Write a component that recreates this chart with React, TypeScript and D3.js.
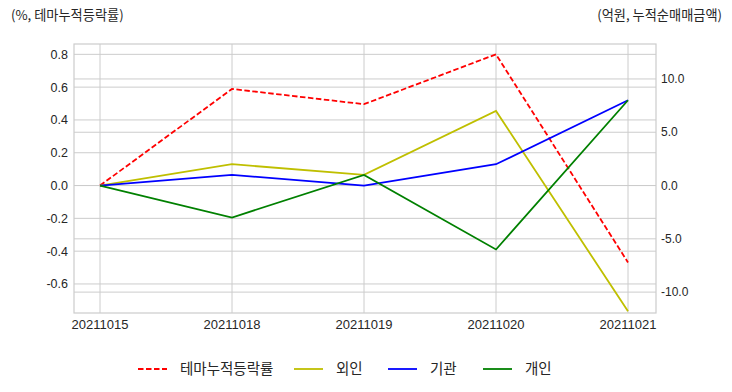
import * as d3 from 'd3';
import { useEffect, useRef } from 'react';

// chart data
const dates = ['20211015', '20211018', '20211019', '20211020', '20211021'];
const themeRate = [0, 0.589, 0.496, 0.8, -0.469];
const foreign = [0, 2.0, 1.0, 7.0, -11.8];
const institution = [0, 1.0, 0, 2.0, 8.0];
const individual = [0, -3.0, 1.0, -6.0, 8.0];

const leftTicks = [-0.6, -0.4, -0.2, 0, 0.2, 0.4, 0.6, 0.8];
const rightTicks = [-10, -5, 0, 5, 10];

export default function App() {
    const svgCur = useRef<SVGSVGElement | null>(null);

    useEffect(() => {
        const width = 732;
        const height = 392;
        const margin = { top: 44, right: 76, bottom: 79, left: 74 };

        if (!svgCur.current) return;
        const svg = d3.select(svgCur.current);
        svg.selectAll('*').remove();

        const x = d3.scalePoint<string>()
            .domain(dates)
            .range([100, 628]);
        const yLeft = d3.scaleLinear()
            .domain([-0.777, 0.863])
            .range([height - margin.bottom, margin.top]);
        const yRight = d3.scaleLinear()
            .domain([-11.96, 13.28])
            .range([height - margin.bottom, margin.top]);

        const x0 = margin.left;
        const x1 = width - margin.right;
        const gridColor = '#cccccc';
        const textColor = '#262626';
        const numFont = '"Liberation Sans", Arial, sans-serif';
        const krFont = '"Noto Sans CJK KR", "Noto Sans", sans-serif';

        // grid
        const grid = svg.append('g');
        grid.selectAll('line.gl')
            .data(leftTicks)
            .join('line')
            .attr('x1', x0).attr('x2', x1)
            .attr('y1', d => yLeft(d)).attr('y2', d => yLeft(d))
            .attr('stroke', gridColor).attr('stroke-width', 1);
        grid.selectAll('line.gr')
            .data(rightTicks)
            .join('line')
            .attr('class', 'gr')
            .attr('x1', x0).attr('x2', x1)
            .attr('y1', d => yRight(d)).attr('y2', d => yRight(d))
            .attr('stroke', gridColor).attr('stroke-width', 1);
        grid.selectAll('line.gx')
            .data(dates)
            .join('line')
            .attr('class', 'gx')
            .attr('x1', d => x(d)!).attr('x2', d => x(d)!)
            .attr('y1', margin.top).attr('y2', height - margin.bottom)
            .attr('stroke', gridColor).attr('stroke-width', 1);

        // frame
        svg.append('rect')
            .attr('x', x0).attr('y', margin.top)
            .attr('width', x1 - x0).attr('height', height - margin.bottom - margin.top)
            .attr('fill', 'none').attr('stroke', gridColor).attr('stroke-width', 1.2);

        // clip
        svg.append('clipPath').attr('id', 'plotClip')
            .append('rect')
            .attr('x', x0).attr('y', margin.top)
            .attr('width', x1 - x0).attr('height', height - margin.bottom - margin.top);

        const lineLeft = d3.line<number>()
            .x((d, i) => x(dates[i])!)
            .y(d => yLeft(d));
        const lineRight = d3.line<number>()
            .x((d, i) => x(dates[i])!)
            .y(d => yRight(d));

        const plot = svg.append('g').attr('clip-path', 'url(#plotClip)');
        plot.append('path').datum(themeRate)
            .attr('d', lineLeft).attr('fill', 'none')
            .attr('stroke', '#ff0000').attr('stroke-width', 1.8)
            .attr('stroke-dasharray', '5.5,2.5');

        const rightSeries = [
            { values: foreign, color: '#bfbf00' },
            { values: institution, color: '#0000ff' },
            { values: individual, color: '#008000' },
        ];
        rightSeries.forEach(s => {
            plot.append('path').datum(s.values)
                .attr('d', lineRight).attr('fill', 'none')
                .attr('stroke', s.color).attr('stroke-width', 1.8);
        });

        // axis labels
        svg.append('g').selectAll('text')
            .data(leftTicks)
            .join('text')
            .attr('x', 68).attr('y', d => yLeft(d))
            .attr('dy', '0.35em')
            .attr('text-anchor', 'end')
            .attr('font-family', numFont).attr('font-size', 12.5)
            .attr('fill', textColor)
            .text(d => d3.format('.1f')(d).replace('−', '-'));

        svg.append('g').selectAll('text')
            .data(rightTicks)
            .join('text')
            .attr('x', 661).attr('y', d => yRight(d))
            .attr('dy', '0.35em')
            .attr('text-anchor', 'start')
            .attr('font-family', numFont).attr('font-size', 12)
            .attr('fill', textColor)
            .text(d => d3.format('.1f')(d).replace('−', '-'));

        svg.append('g').selectAll('text')
            .data(dates)
            .join('text')
            .attr('x', d => x(d)!).attr('y', 324)
            .attr('dy', '0.35em')
            .attr('text-anchor', 'middle')
            .attr('font-family', numFont).attr('font-size', 13)
            .attr('fill', textColor)
            .text(d => d);

        // unit labels
        svg.append('text')
            .attr('x', 11).attr('y', 15).attr('dy', '0.35em')
            .attr('font-family', krFont).attr('font-size', 13.2)
            .attr('fill', textColor)
            .text('(%, 테마누적등락률)');
        svg.append('text')
            .attr('x', 722).attr('y', 15).attr('dy', '0.35em')
            .attr('text-anchor', 'end')
            .attr('font-family', krFont).attr('font-size', 13.2)
            .attr('fill', textColor)
            .text('(억원, 누적순매매금액)');

        // legend
        const legendItems = [
            { label: '테마누적등락률', color: '#ff0000', dash: '5.5,2.5', x: 138 },
            { label: '외인', color: '#bfbf00', dash: null, x: 294 },
            { label: '기관', color: '#0000ff', dash: null, x: 388 },
            { label: '개인', color: '#008000', dash: null, x: 483 },
        ];
        const legend = svg.append('g');
        legendItems.forEach(item => {
            const ln = legend.append('line')
                .attr('x1', item.x).attr('x2', item.x + 29)
                .attr('y1', 369).attr('y2', 369)
                .attr('stroke', item.color).attr('stroke-width', 1.8);
            if (item.dash) ln.attr('stroke-dasharray', item.dash);
            legend.append('text')
                .attr('x', item.x + 42).attr('y', 369).attr('dy', '0.35em')
                .attr('font-family', krFont).attr('font-size', 14.5)
                .attr('fill', textColor)
                .text(item.label);
        });
    }, []);

    return (
        <svg ref={svgCur} width={732} height={392}
            style={{ position: 'absolute', left: 0, top: 0, background: '#ffffff' }} />
    );
}
